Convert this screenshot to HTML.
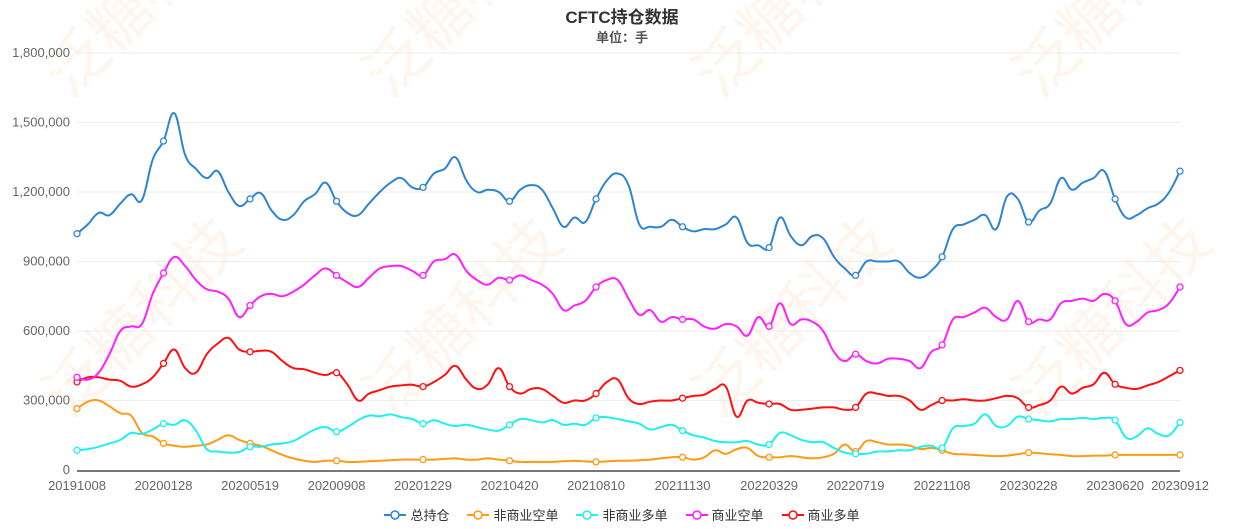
<!DOCTYPE html>
<html><head><meta charset="utf-8">
<style>
body{margin:0;background:#fff;width:1244px;height:529px;overflow:hidden;font-family:"Liberation Sans","Noto Sans CJK SC",sans-serif;}
#wrap{position:relative;width:1244px;height:529px;}
.t{position:absolute;left:0;width:1244px;text-align:center;font-weight:bold;}
#legend{position:absolute;top:505px;left:0;width:1244px;display:flex;justify-content:center;gap:18px;font-size:13px;color:#333;}
.li{display:flex;align-items:center;gap:4px;}
</style></head><body>
<div id="wrap">
<svg id="wm" width="1244" height="529" style="position:absolute;left:0;top:0">
<g fill="#f7b98a" opacity="0.15" font-size="62" font-family="Liberation Sans, Noto Sans CJK SC, sans-serif">
<text transform="translate(70,420) rotate(-45)">泛糖科技</text>
<text transform="translate(390,100) rotate(-45)">泛糖科技</text>
<text transform="translate(390,420) rotate(-45)">泛糖科技</text>
<text transform="translate(720,100) rotate(-45)">泛糖科技</text>
<text transform="translate(720,420) rotate(-45)">泛糖科技</text>
<text transform="translate(1040,100) rotate(-45)">泛糖科技</text>
<text transform="translate(1040,420) rotate(-45)">泛糖科技</text>
<text transform="translate(70,100) rotate(-45)">泛糖科技</text>
</g></svg>
<div class="t" style="top:3px;font-size:17px;color:#333">CFTC持仓数据</div>
<div class="t" style="top:27px;font-size:13px;color:#555">单位：手</div>
<svg id="chart" width="1244" height="529" style="position:absolute;left:0;top:0"></svg>
<div id="legend"></div>
</div>
<script>
const categories=["20191008","20200128","20200519","20200908","20201229","20210420","20210810","20211130","20220329","20220719","20221108","20230228","20230620","20230912"];
const labelIdx=[0,8,16,24,32,40,48,56,64,72,80,88,96,102];
const yTicks=[0,300000,600000,900000,1200000,1500000,1800000];
const seriesNames=["总持仓","非商业空单","非商业多单","商业空单","商业多单"];
const seriesColors=["#2f84d2","#ff9a14","#1ef0f0","#ff1fff","#ff1010"];
const total=[1020,1060,1110,1100,1150,1190,1165,1340,1420,1540,1360,1300,1260,1290,1200,1140,1170,1195,1120,1080,1100,1160,1190,1240,1160,1110,1100,1150,1200,1240,1260,1220,1220,1280,1300,1350,1250,1200,1210,1200,1160,1210,1230,1210,1130,1050,1090,1070,1170,1250,1280,1230,1060,1050,1050,1080,1050,1030,1040,1040,1060,1090,980,970,960,1090,1010,970,1010,1000,920,870,840,900,900,900,900,850,830,860,920,1040,1060,1080,1100,1040,1180,1170,1070,1120,1150,1260,1210,1240,1260,1290,1170,1090,1100,1130,1150,1200,1290];
const ncShort=[265,295,300,275,245,235,160,145,115,105,100,105,110,130,150,130,115,105,85,65,50,40,35,40,40,35,35,38,40,42,45,45,45,45,48,50,45,45,50,45,40,35,35,35,35,38,40,37,35,37,40,40,42,45,50,55,55,45,55,85,70,90,95,60,55,55,60,55,50,55,70,110,80,125,120,110,110,105,90,95,85,70,68,65,62,60,62,68,75,72,68,65,60,60,62,62,65,65,65,65,65,65,65];
const ncLong=[85,90,100,115,130,160,155,175,200,195,215,170,90,80,75,78,100,100,110,115,125,150,175,185,165,185,215,235,232,240,228,220,200,215,200,190,195,185,175,170,195,220,215,205,215,195,200,195,225,228,220,210,200,175,185,195,170,150,140,125,120,120,125,110,110,160,150,130,120,120,95,75,70,70,80,80,85,85,100,105,95,180,190,200,240,190,190,230,220,215,210,220,220,225,220,225,215,140,145,180,155,150,205];
const cShort=[400,390,420,500,600,620,630,760,850,920,880,820,780,770,740,660,710,750,760,750,770,800,840,870,840,810,790,830,870,880,880,860,840,900,910,930,860,820,800,830,820,840,820,800,760,690,710,730,790,820,820,740,670,690,640,660,650,650,620,610,630,620,580,660,620,720,630,650,640,600,510,470,500,470,460,480,480,470,440,510,540,650,660,680,700,660,650,730,640,650,650,720,730,740,730,760,730,630,640,680,690,720,790];
const cLong=[380,400,400,390,385,360,370,400,460,520,440,420,500,545,570,520,510,515,510,470,440,435,420,410,420,370,300,330,345,360,365,368,360,380,410,450,390,350,370,440,360,330,350,350,320,290,300,300,330,380,390,310,285,295,300,300,310,320,325,350,360,230,300,290,285,285,260,260,265,270,270,260,270,330,330,320,320,300,260,280,300,300,305,300,300,310,320,310,270,280,300,360,330,355,370,420,370,355,350,365,380,405,430];
const seriesData=[total,ncShort,ncLong,cShort,cLong];

const NS="http://www.w3.org/2000/svg";
const svg=document.getElementById('chart');
const X0=77,X1=1180,Y0=470,Y1=53,N=total.length;
const xs=i=>X0+(X1-X0)*i/(N-1);
const ys=v=>Y0-(Y0-Y1)*v/1800000;
function mk(t,a){const e=document.createElementNS(NS,t);for(const k in a)e.setAttribute(k,a[k]);svg.appendChild(e);return e;}
yTicks.forEach(v=>{
  if(v>0){const g=mk('line',{x1:X0,x2:X1,y1:ys(v),y2:ys(v),stroke:'#ececec','stroke-width':1});
  
  }
  const t=mk('text',{x:70,y:ys(v)+4,'text-anchor':'end','font-size':13,fill:'#666'});
  t.textContent=v.toLocaleString('en-US');
  
  
});
const ax=mk('line',{x1:X0,x2:X1,y1:Y0+1,y2:Y0+1,stroke:'#777','stroke-width':2});


categories.forEach((c,k)=>{
  const t=mk('text',{x:xs(labelIdx[k]),y:490,'text-anchor':'middle','font-size':13,fill:'#666'});
  t.textContent=c;
  
  
});
function smooth(pts){let d='M'+pts[0][0]+','+pts[0][1];const s=0.2;
  for(let i=0;i<pts.length-1;i++){const p0=pts[i-1]||pts[i],p1=pts[i],p2=pts[i+1],p3=pts[i+2]||p2;
    const c1=[p1[0]+(p2[0]-p0[0])*s,p1[1]+(p2[1]-p0[1])*s],c2=[p2[0]-(p3[0]-p1[0])*s,p2[1]-(p3[1]-p1[1])*s];
    d+=' C'+c1[0].toFixed(1)+','+c1[1].toFixed(1)+' '+c2[0].toFixed(1)+','+c2[1].toFixed(1)+' '+p2[0].toFixed(1)+','+p2[1].toFixed(1);}
  return d;}
const order=[1,2,4,3,0];
order.forEach(si=>{
  const data=seriesData[si];
  const pts=data.map((v,i)=>[xs(i),ys(v*1000)]);
  const p=mk('path',{d:smooth(pts),fill:'none',stroke:seriesColors[si],'stroke-width':2});
  
  
  labelIdx.forEach(i=>{
    const c=mk('circle',{cx:xs(i),cy:ys(data[i]*1000),r:3,fill:'#fff',stroke:seriesColors[si],'stroke-width':1.3});
    
    
  });
});
const lg=document.getElementById('legend');
seriesNames.forEach((n,i)=>{
  const d=document.createElement('div');d.className='li';
  
  
  d.innerHTML='<svg width="22" height="12"><line x1="0" y1="6" x2="22" y2="6" stroke="'+seriesColors[i]+'" stroke-width="2"/><circle cx="11" cy="6" r="4" fill="#fff" stroke="'+seriesColors[i]+'" stroke-width="1.5"/></svg><span>'+n+'</span>';
  lg.appendChild(d);
});
</script>
</body></html>
